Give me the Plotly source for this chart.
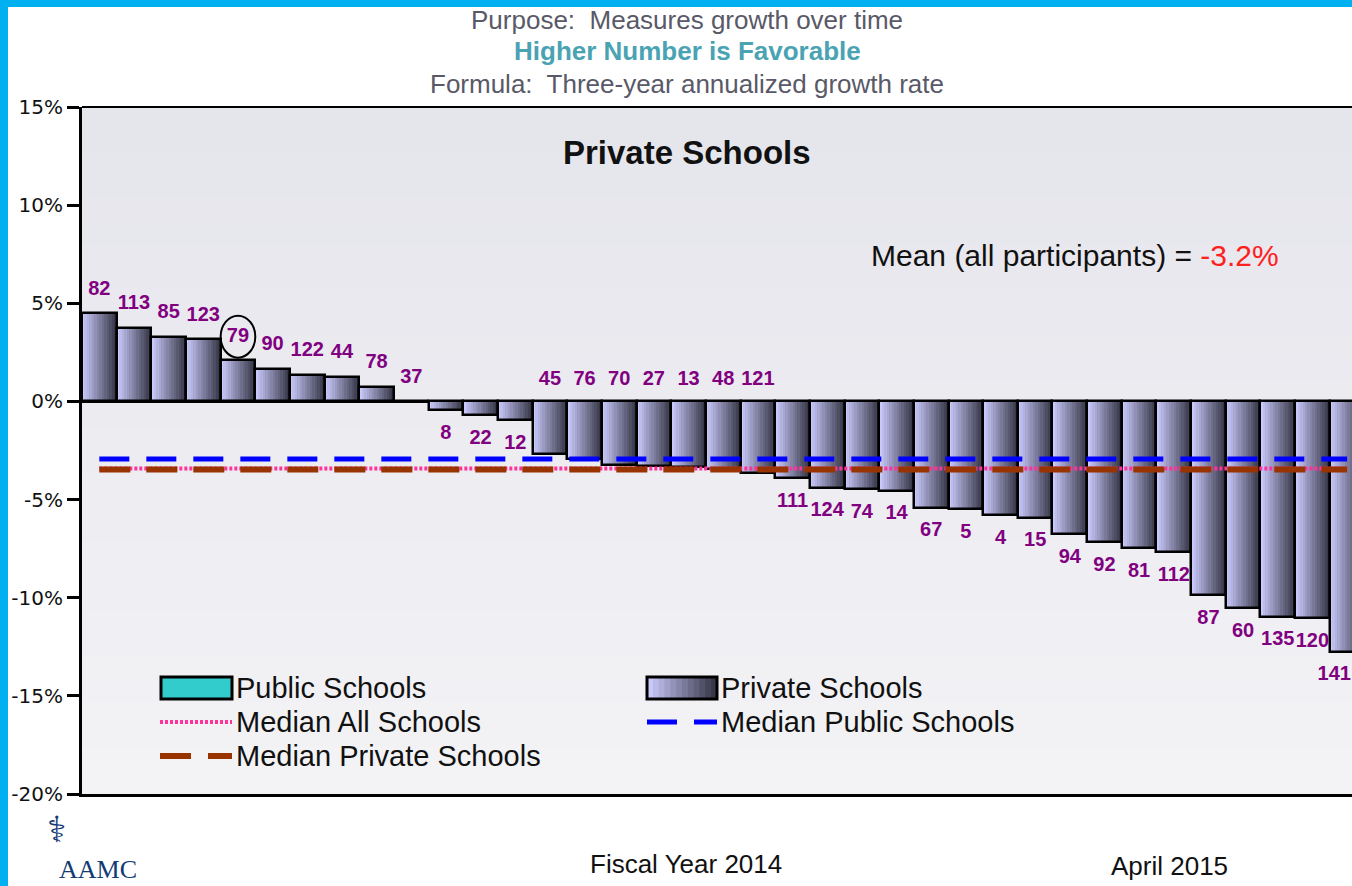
import plotly.graph_objects as go

# ---------------- data ----------------
school_ids = ["82", "113", "85", "123", "79", "90", "122", "44", "78", "37",
              "8", "22", "12", "45", "76", "70", "27", "13", "48", "121",
              "111", "124", "74", "14", "67", "5", "4", "15", "94", "92",
              "81", "112", "87", "60", "135", "120", "141"]
growth_pct = [4.5, 3.75, 3.3, 3.16, 2.1, 1.67, 1.35, 1.26, 0.75, 0.0,
              -0.44, -0.71, -0.95, -2.68, -2.92, -3.25, -3.3, -3.35, -3.45, -3.66,
              -3.92, -4.4, -4.48, -4.55, -5.41, -5.48, -5.79, -5.92, -6.77, -7.18,
              -7.48, -7.69, -9.86, -10.54, -10.97, -11.05, -12.75]
median_all = -3.42
median_public = -2.93
median_private = -3.47
mean_all_label = "-3.2%"
highlight_id = "79"
y_tick_vals = [-20, -15, -10, -5, 0, 5, 10, 15]
y_tick_text = ["-20%", "-15%", "-10%", "-5%", "0%", "5%", "10%", "15%"]

# ---------------- geometry helpers ----------------
W, H = 1352, 886
ML, MR, MT, MB = 82, 0, 107, 92
PW, PH = W - ML - MR, H - MT - MB
BAR_PX = 34.66
X_MAX = -0.5 + PW / BAR_PX


def px(xp):
    return (xp - ML) / PW


def py(yp):
    return (H - MB - yp) / PH


n = len(growth_pct)
xs = list(range(n))
fig = go.Figure()

# gradient bars built from vertical strips
N = 14
light = (200, 200, 250)
dark = (55, 55, 72)
for k in range(N):
    t = k / (N - 1)
    c = tuple(int(round(light[i] + (dark[i] - light[i]) * t)) for i in range(3))
    w = 1.0 / N if k == N - 1 else 1.6 / N
    fig.add_trace(go.Bar(
        x=xs, y=growth_pct, width=[w] * n, offset=[-0.5 + k / N] * n,
        marker=dict(color="rgb(%d,%d,%d)" % c, line=dict(width=0)),
        showlegend=False, hoverinfo="skip"))
fig.add_trace(go.Bar(
    x=xs, y=growth_pct, width=[1.0] * n, offset=[-0.5] * n, name="Private Schools",
    marker=dict(color="rgba(0,0,0,0)", line=dict(color="black", width=2.5)),
    showlegend=False, customdata=school_ids,
    hovertemplate="School %{customdata}: %{y:.1f}%<extra></extra>"))

# median lines
fig.add_trace(go.Scatter(x=xs, y=[median_all] * n, mode="lines", name="Median All Schools",
                         line=dict(color="#FF3399", width=4, dash="3px,2px"), showlegend=False))
fig.add_trace(go.Scatter(x=xs, y=[median_private] * n, mode="lines", name="Median Private Schools",
                         line=dict(color="#993300", width=6, dash="31px,16px"), showlegend=False))
fig.add_trace(go.Scatter(x=xs, y=[median_public] * n, mode="lines", name="Median Public Schools",
                         line=dict(color="#0000FF", width=5, dash="30px,17px"), showlegend=False))


# data labels
def label_y(v):
    if v >= 0:
        return v + 1.2
    if v > -1.5:
        return v - 1.2
    if v > -3.8:
        return 1.1
    return v - 1.2


lab_y = [label_y(v) for v in growth_pct]
lab_pos = ["middle left" if i + 0.5 > X_MAX else "middle center" for i in xs]
lab_x = [X_MAX - 0.03 if i + 0.5 > X_MAX else i for i in xs]
fig.add_trace(go.Scatter(x=lab_x, y=lab_y, mode="text", text=school_ids,
                         textposition=lab_pos, cliponaxis=False,
                         textfont=dict(family="Liberation Sans", size=20, color="#800080", weight="bold"),
                         showlegend=False, hoverinfo="skip"))

shapes = []
# plot background gradient
NB = 30
for k in range(NB):
    t = k / (NB - 1)
    top = (229, 229, 236)
    bot = (243, 243, 246)
    c = tuple(int(round(top[i] + (bot[i] - top[i]) * t)) for i in range(3))
    shapes.append(dict(type="rect", xref="paper", yref="paper", x0=0, x1=1,
                       y0=1 - (k + 1) / NB, y1=1 - k / NB + 0.001, layer="below",
                       fillcolor="rgb(%d,%d,%d)" % c, line=dict(width=0)))
# top border of plot
shapes.append(dict(type="line", xref="paper", yref="paper", x0=0, x1=1, y0=1, y1=1,
                   line=dict(color="black", width=2)))
# circle around highlighted school label
hi = school_ids.index(highlight_id)
shapes.append(dict(type="circle", xref="x", yref="y", x0=hi - 0.5, x1=hi + 0.5,
                   y0=lab_y[hi] - 1.07, y1=lab_y[hi] + 1.07, line=dict(color="black", width=2)))
# cyan slide frame
shapes.append(dict(type="rect", xref="paper", yref="paper", x0=px(0), x1=px(8), y0=py(H), y1=py(0),
                   fillcolor="#00B0F0", line=dict(width=0)))
shapes.append(dict(type="rect", xref="paper", yref="paper", x0=px(0), x1=px(W), y0=py(7), y1=py(0),
                   fillcolor="#00B0F0", line=dict(width=0)))

# manual legend swatches
shapes.append(dict(type="rect", xref="paper", yref="paper", x0=px(161), x1=px(232), y0=py(699), y1=py(677),
                   fillcolor="#33CCCC", line=dict(color="black", width=3)))
NS = 12
for k in range(NS):
    t = k / (NS - 1)
    c = tuple(int(round(light[i] + (dark[i] - light[i]) * t)) for i in range(3))
    x0 = 647 + 70 * k / NS
    shapes.append(dict(type="rect", xref="paper", yref="paper", x0=px(x0), x1=px(x0 + 70 / NS + 1),
                       y0=py(699), y1=py(677), fillcolor="rgb(%d,%d,%d)" % c, line=dict(width=0)))
shapes.append(dict(type="rect", xref="paper", yref="paper", x0=px(647), x1=px(717), y0=py(699), y1=py(677),
                   line=dict(color="black", width=3)))
shapes.append(dict(type="line", xref="paper", yref="paper", x0=px(160), x1=px(232), y0=py(722), y1=py(722),
                   line=dict(color="#FF3399", width=4, dash="3px,2px")))
shapes.append(dict(type="line", xref="paper", yref="paper", x0=px(647), x1=px(717), y0=py(722), y1=py(722),
                   line=dict(color="#0000FF", width=5, dash="30px,17px")))
shapes.append(dict(type="line", xref="paper", yref="paper", x0=px(160), x1=px(232), y0=py(756), y1=py(756),
                   line=dict(color="#993300", width=6, dash="31px,17px")))

anns = []


def ann(text, x, y, size, color="#111111", family="Liberation Sans", xanchor="center", bold=False):
    anns.append(dict(text=("<b>%s</b>" % text) if bold else text, xref="paper", yref="paper",
                     x=px(x), y=py(y), xanchor=xanchor, yanchor="middle", showarrow=False,
                     borderpad=0,
                     font=dict(family=family, size=size, color=color)))


ann("Purpose:\u00a0 Measures growth over time", 687, 20, 26, color="#595968")
ann("Higher Number is Favorable", 687, 51, 26, color="#4AA3B3", bold=True)
ann("Formula:\u00a0 Three-year annualized growth rate", 687, 84, 26, color="#595968")
ann("Private Schools", 687, 152, 33, color="#111111", bold=True)
ann("Mean (all participants) = <span style='color:#FF2020'>%s</span>" % mean_all_label,
    1280, 255, 30, xanchor="right")
ann("Public Schools", 235, 688, 29, xanchor="left")
ann("Private Schools", 720, 688, 29, xanchor="left")
ann("Median All Schools", 235, 722, 29, xanchor="left")
ann("Median Public Schools", 720, 722, 29, xanchor="left")
ann("Median Private Schools", 235, 756, 29, xanchor="left")
ann("Fiscal Year 2014", 686, 864, 26)
ann("April 2015", 1169, 866, 26)
ann("\u2695", 56, 830, 36, color="#123A75", family="DejaVu Sans")
ann("AAMC", 58, 869, 26, color="#123A75", family="Liberation Serif", xanchor="left")

fig.update_layout(
    width=W, height=H, margin=dict(l=ML, r=MR, t=MT, b=MB),
    paper_bgcolor="white", plot_bgcolor="#EDEDF2",
    barmode="overlay", bargap=0,
    shapes=shapes, annotations=anns,
    xaxis=dict(range=[-0.5, X_MAX], showticklabels=False, ticks="",
               showgrid=False, zeroline=False, showline=True, linecolor="black", linewidth=3,
               fixedrange=True),
    yaxis=dict(range=[-20, 15], tickvals=y_tick_vals, ticktext=y_tick_text,
               ticks="outside", ticklen=12, tickwidth=2.5, tickcolor="black",
               tickfont=dict(family="DejaVu Sans", size=20, color="#111111"),
               showgrid=False, zeroline=True, zerolinecolor="black", zerolinewidth=2.5,
               showline=True, linecolor="black", linewidth=3, fixedrange=True),
    showlegend=False,
)

fig.write_html("out.html", config={"displayModeBar": False},
               post_script="document.body.style.margin='0';document.body.style.overflow='hidden';")
